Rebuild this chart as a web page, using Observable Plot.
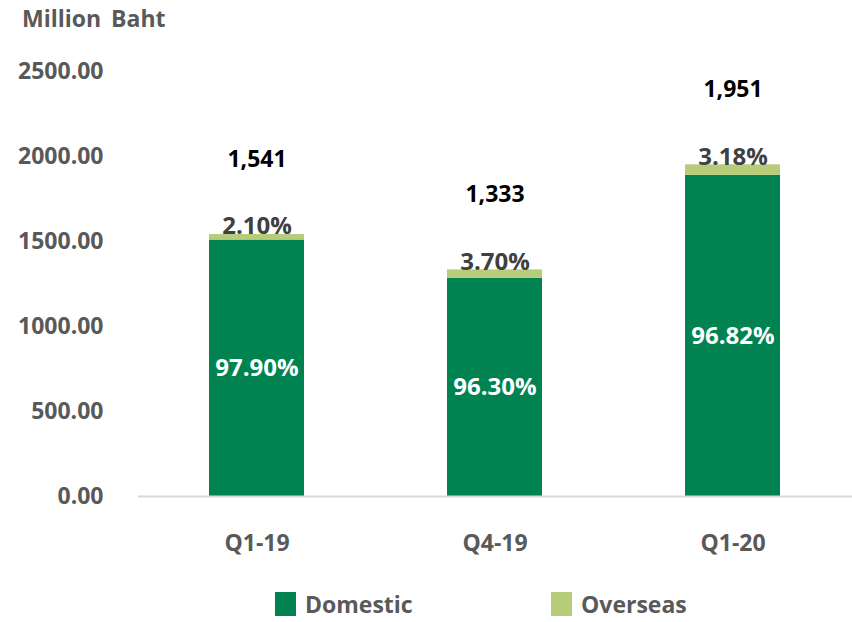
<!DOCTYPE html>
<html>
<head>
<meta charset="utf-8">
<script src="https://cdn.jsdelivr.net/npm/d3@7"></script>
<script src="https://cdn.jsdelivr.net/npm/@observablehq/plot@0.6"></script>
<style>
  html, body { margin: 0; padding: 0; background: #fff; }
  #wrap { position: relative; width: 852px; height: 622px; overflow: hidden; font-family: "Open Sans", "Noto Sans", sans-serif; }
  #title { position: absolute; left: 22px; top: 2px; font-size: 23px; font-weight: 700; color: #595959; word-spacing: 4px; }
  #chart { position: absolute; left: 0; top: 0; }
  #legend { position: absolute; top: 591px; left: 0; width: 852px; height: 26px; font-size: 23px; font-weight: 700; color: #595959; }
  .item { position: absolute; display: flex; align-items: center; height: 26px; line-height: 26px; }
  .sw { width: 21px; height: 24px; margin-right: 9px; }
</style>
</head>
<body>
<div id="wrap">
  <div id="chart"></div>
  <div id="title">Million Baht</div>
  <div id="legend"></div>
</div>
<script>
const categories = ["Q1-19", "Q4-19", "Q1-20"];
const totals = [1541, 1333, 1951];
const domesticPct = [97.90, 96.30, 96.82];
const overseasPct = [2.10, 3.70, 3.18];
const seriesNames = ["Domestic", "Overseas"];
const seriesColors = ["#008350", "#b7cc78"];
const yTicks = [0, 500, 1000, 1500, 2000, 2500];

const rows = categories.map((c, i) => ({
  cat: c,
  total: totals[i],
  domestic: totals[i] * domesticPct[i] / 100,
  overseas: totals[i] * overseasPct[i] / 100,
  dPct: domesticPct[i],
  oPct: overseasPct[i]
}));
const long = [];
rows.forEach(r => {
  long.push({cat: r.cat, series: "Domestic", value: r.domestic});
  long.push({cat: r.cat, series: "Overseas", value: r.overseas});
});

const font = {fontSize: 23, fontWeight: 700};
const pctFont = {fontSize: 24, fontWeight: 700, style: "letter-spacing: 0.6px"};

const chart = Plot.plot({
  width: 852,
  height: 585,
  marginLeft: 138,
  marginRight: 0,
  marginTop: 71,
  marginBottom: 89,
  style: {fontFamily: '"Open Sans", "Noto Sans", sans-serif', background: "transparent"},
  x: {domain: categories, paddingInner: 0.6, paddingOuter: 0.3, label: null},
  y: {domain: [0, 2500], label: null},
  color: {domain: seriesNames, range: seriesColors},
  marks: [
    Plot.barY(long, {x: "cat", y: "value", fill: "series"}),
    Plot.ruleY([0], {stroke: "#d9d9d9", strokeWidth: 2}),
    Plot.axisY({ticks: yTicks, tickFormat: d3.format(".2f"), tickSize: 0, tickPadding: 35, ...font, fill: "#595959"}),
    Plot.axisX({tickSize: 0, tickPadding: 38, ...font, fill: "#595959"}),
    Plot.text(rows, {x: "cat", y: d => d.domestic / 2, text: d => d.dPct.toFixed(2) + "%", fill: "white", ...pctFont}),
    Plot.text(rows, {x: "cat", y: "total", text: d => d.oPct.toFixed(2) + "%", fill: "#404040", dy: -8, ...pctFont}),
    Plot.text(rows, {x: "cat", y: "total", text: d => d3.format(",")(d.total), fill: "#000000", dy: -75, ...font})
  ]
});
document.getElementById("chart").appendChild(chart);

const legend = document.getElementById("legend");
const legendLeft = [275, 551];
seriesNames.forEach((name, i) => {
  const item = document.createElement("div");
  item.className = "item";
  item.style.left = legendLeft[i] + "px";
  const sw = document.createElement("div");
  sw.className = "sw";
  sw.style.background = seriesColors[i];
  const label = document.createElement("span");
  label.textContent = name;
  item.appendChild(sw);
  item.appendChild(label);
  legend.appendChild(item);
});
</script>
</body>
</html>
